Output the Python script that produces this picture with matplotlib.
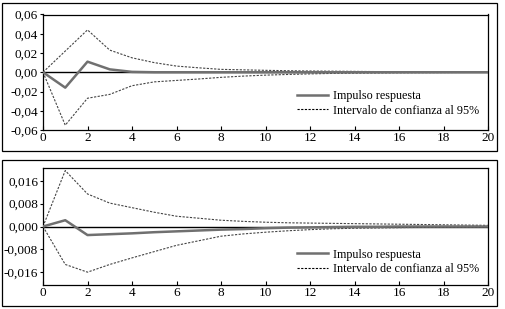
import matplotlib.pyplot as plt
from matplotlib.patches import Rectangle
from matplotlib.ticker import FuncFormatter

plt.rcParams['font.family'] = ['Liberation Serif', 'DejaVu Serif']

periods = list(range(21))

# top panel
resp1 = [0, -0.016, 0.011, 0.003, 0.0004, 0, 0, 0, 0, 0, 0,
         0, 0, 0, 0, 0, 0, 0, 0, 0, 0]
upper1 = [0, 0.022, 0.044, 0.023, 0.015, 0.010, 0.0064, 0.0046, 0.003, 0.0025, 0.002,
          0.0016, 0.0013, 0.0011, 0.0009, 0.0007, 0.0006, 0.0005, 0.0004, 0.0003, 0.0003]
lower1 = [0, -0.055, -0.027, -0.023, -0.014, -0.010, -0.0085, -0.007, -0.0053, -0.004, -0.003,
          -0.0023, -0.0017, -0.0012, -0.0009, -0.0007, -0.0005, -0.0004, -0.0003, -0.0002, -0.0002]

# bottom panel
resp2 = [0, 0.0022, -0.003, -0.0027, -0.0024, -0.002, -0.0017, -0.0014, -0.0011, -0.0009, -0.0006,
         -0.0004, -0.0003, -0.0002, -0.0001, -0.0001, 0, 0, 0, 0, 0]
upper2 = [0, 0.0196, 0.0114, 0.0082, 0.0066, 0.005, 0.0036, 0.0029, 0.0022, 0.0018, 0.0015,
          0.0013, 0.0012, 0.0011, 0.001, 0.0009, 0.0008, 0.0007, 0.0006, 0.0005, 0.0004]
lower2 = [0, -0.0133, -0.016, -0.0133, -0.011, -0.0088, -0.0066, -0.005, -0.0034, -0.0026, -0.002,
          -0.0015, -0.0011, -0.0008, -0.0006, -0.0005, -0.0004, -0.0003, -0.0002, -0.0002, -0.0001]

labels = ['Impulso respuesta', 'Intervalo de confianza al 95%']

fig = plt.figure(figsize=(5.06, 3.09), dpi=100)

# outer frames
for y0, y1 in [(3, 151), (160, 306)]:
    fig.patches.append(Rectangle((2 / 506, 1 - y1 / 309), 495 / 506, (y1 - y0) / 309,
                                 transform=fig.transFigure, fill=False,
                                 edgecolor='black', linewidth=0.9))

ax1 = fig.add_axes([43 / 506, 1 - 130 / 309, 445 / 506, 115.5 / 309])
ax2 = fig.add_axes([43 / 506, 1 - 285 / 309, 445 / 506, 117 / 309])

def comma(dec):
    return FuncFormatter(lambda v, p: ('{:.%df}' % dec).format(v).replace('.', ','))

panels = [(ax1, resp1, upper1, lower1, (-0.06, 0.06), [-0.06, -0.04, -0.02, 0, 0.02, 0.04, 0.06], 2, 0.115),
          (ax2, resp2, upper2, lower2, (-0.0205, 0.0205), [-0.016, -0.008, 0, 0.008, 0.016], 3, 0.085)]

for ax, r, u, l, yl, yt, dec, ly in panels:
    ax.axhline(0, color='black', linewidth=1.0, zorder=1)
    ax.plot(periods, u, color='#444444', linestyle=(0, (2, 1.3)), linewidth=0.8)
    ax.plot(periods, l, color='#444444', linestyle=(0, (2, 1.3)), linewidth=0.8)
    h1, = ax.plot(periods, r, color='#707070', linewidth=1.8, zorder=3)
    h2, = ax.plot([], [], color='black', linestyle=(0, (2, 1.3)), linewidth=0.8)
    ax.set_xlim(0, 20)
    ax.set_ylim(*yl)
    ax.set_xticks(range(0, 21, 2))
    ax.set_yticks(yt)
    ax.yaxis.set_major_formatter(comma(dec))
    ax.tick_params(axis='x', direction='in', length=3, labelsize=9.5, pad=1.5)
    ax.tick_params(axis='y', direction='out', length=2, labelsize=9.5, pad=1.5)
    for s in ax.spines.values():
        s.set_linewidth(0.9)
    ax.legend([h1, h2], labels, loc='lower left', bbox_to_anchor=(0.57, ly),
              frameon=False, fontsize=8.7, handlelength=2.6, handletextpad=0.4,
              labelspacing=0.2, borderpad=0, borderaxespad=0)

fig.savefig('out.png', dpi=100)
